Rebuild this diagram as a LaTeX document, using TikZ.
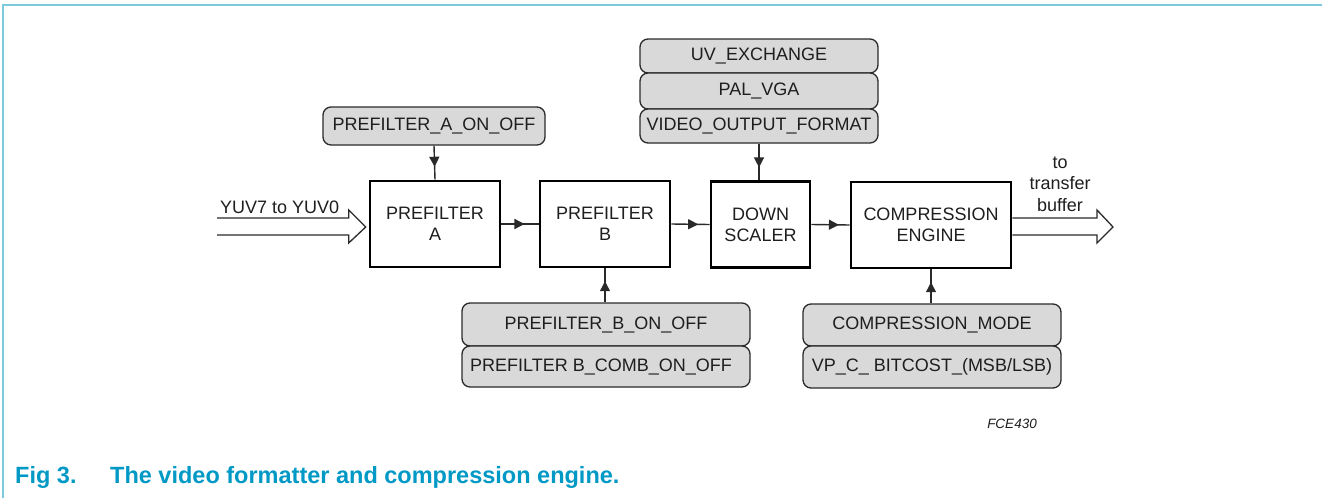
\documentclass[tikz,border=0pt]{standalone}
\usepackage{fontspec}
\setmainfont{Liberation Sans}
\usetikzlibrary{arrows.meta,decorations.markings,calc}
\definecolor{framecol}{HTML}{7CCBDD}
\definecolor{capcol}{HTML}{0099C6}
\definecolor{ctlfill}{HTML}{D9D9D9}
\definecolor{txt}{HTML}{1E1E1E}
\definecolor{wire}{HTML}{2A2A2A}
\tikzset{
  mainbox/.style={draw=black, line width=2.6pt, fill=white, align=center, inner sep=0pt,
    text=txt, font=\fontsize{18}{21}\selectfont},
  ctlbox/.style={draw=wire, line width=1.3pt, fill=ctlfill, rounded corners=8pt, inner sep=0pt,
    text=txt, font=\fontsize{18}{21}\selectfont},
  midarrow/.style={draw=wire, line width=1.4pt, postaction={decorate},
    decoration={markings, mark=at position #1 with {\arrow{Triangle[length=10pt,width=10pt]}}}},
  bus/.style={draw=wire, line width=1.3pt, line join=miter},
  lbl/.style={text=txt, font=\fontsize{18}{21}\selectfont, inner sep=0pt}
}
\begin{document}
\begin{tikzpicture}[x=1pt,y=-1pt]
\useasboundingbox (0,0) rectangle (1322,498);
% frame
\draw[framecol, line width=2pt] (3,498) -- (3,5) -- (1322,5);

% main boxes
\node[mainbox, minimum width=130pt, minimum height=86pt] (pa) at (435,224) {PREFILTER\\A};
\node[mainbox, minimum width=130pt, minimum height=86pt] (pb) at (605,224) {PREFILTER\\B};
\node[mainbox, minimum width=99pt, minimum height=86pt] (ds) at (760.5,224.5) {DOWN\\SCALER};
\node[mainbox, minimum width=160pt, minimum height=86pt] (ce) at (931,225) {COMPRESSION\\ENGINE};

% control boxes
\node[ctlbox, minimum width=222pt, minimum height=38pt] (paon) at (434,126) {PREFILTER\_A\_ON\_OFF};
\node[ctlbox, minimum width=238pt, minimum height=34pt] (uv) at (759,56) {UV\_EXCHANGE};
\node[ctlbox, minimum width=238pt, minimum height=36pt] (pal) at (759,91) {PAL\_VGA};
\node[ctlbox, minimum width=238pt, minimum height=34pt] (vof) at (759,126) {VIDEO\_OUTPUT\_FORMAT};
\node[ctlbox, minimum width=288pt, minimum height=43pt] (pbon) at (606,324.5) {PREFILTER\_B\_ON\_OFF};
\node[ctlbox, minimum width=288pt, minimum height=41pt] (pbcomb) at (606,366.5) {\hspace*{-10pt}PREFILTER B\_COMB\_ON\_OFF};
\node[ctlbox, minimum width=258pt, minimum height=42pt] (cmode) at (932,325) {COMPRESSION\_MODE};
\node[ctlbox, minimum width=258pt, minimum height=42pt] (vpc) at (932,367) {VP\_C\_ BITCOST\_(MSB/LSB)};

% connectors
\draw[midarrow=0.62] (pa.east) -- (pb.west);
\draw[midarrow=0.7] (pb.east) -- (ds.west);
\draw[midarrow=0.72] (ds.east) -- (ce.west);
\draw[midarrow=0.62] (paon.south) -- (pa.north);
\draw[midarrow=0.65] (vof.south) -- (ds.north -| vof.south);
\draw[midarrow=0.62] (pbon.north -| pb.south) -- (pb.south);
\draw[midarrow=0.62] (cmode.north -| ce.south) -- (ce.south);

% input bus arrow
\coordinate (inL) at (217,227);
\coordinate (inTip) at ($(pa.west)+(-3,3)$);
\draw[bus] ($(inL)+(0,-9)$) -- ($(inTip)+(-17,-9)$) -- ($(inTip)+(-17,-17)$) -- (inTip)
  -- ($(inTip)+(-17,16)$) -- ($(inTip)+(-17,8)$) -- ($(inL)+(0,8)$);
\node[lbl, anchor=base west] (inlbl) at (220,213) {YUV7 to YUV0};

% output bus arrow
\coordinate (outTip) at (1113,227);
\draw[bus] (ce.east |- 0,218) -- (1097,218) -- (1097,210) -- (outTip) -- (1097,243) -- (1097,235) -- (ce.east |- 0,235);
\node[lbl, align=center, font=\fontsize{18}{21.5}\selectfont] (outlbl) at (1060,184) {to\\transfer\\buffer};

% figure id
\node[lbl, font=\fontsize{13.5}{16}\selectfont\itshape] (fid) at (1012,424) {FCE430};

% caption
\node[anchor=base west, inner sep=0pt, text=capcol, font=\fontsize{23.5}{28}\selectfont\bfseries] (capA) at (15,483) {Fig 3.};
\node[anchor=base west, inner sep=0pt, text=capcol, font=\fontsize{23.5}{28}\selectfont\bfseries] (capB) at (110,483) {The video formatter and compression engine.};
\end{tikzpicture}
\end{document}
